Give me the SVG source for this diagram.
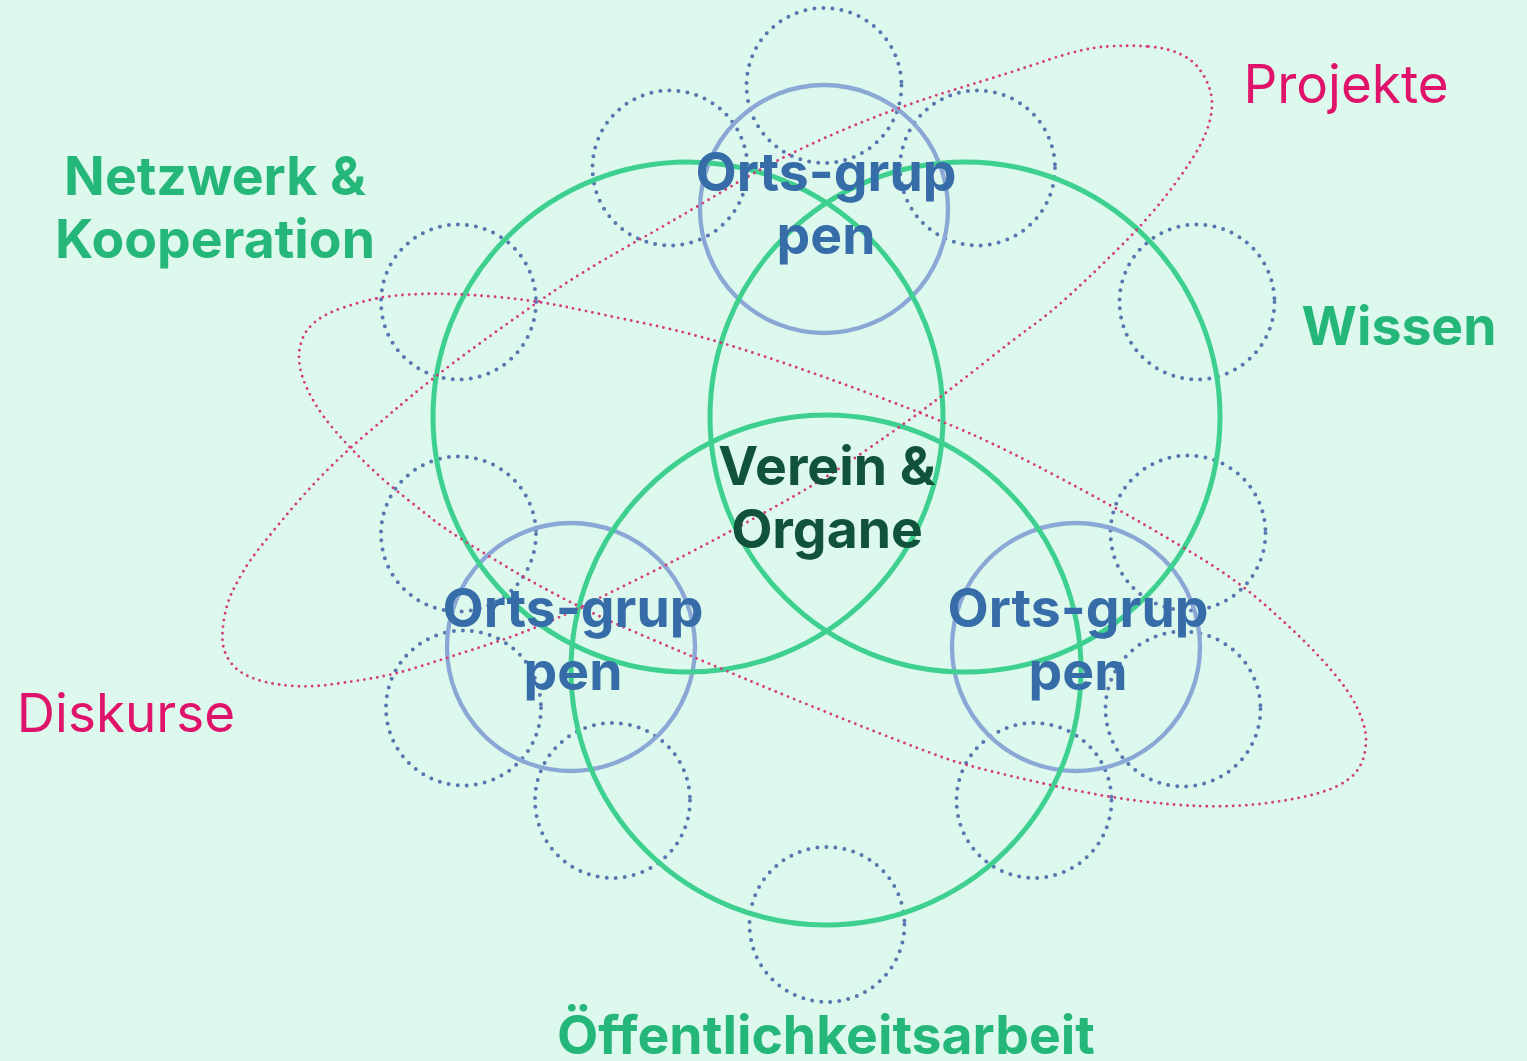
<svg xmlns="http://www.w3.org/2000/svg" width="1527" height="1061" viewBox="0 0 1527 1061">
<style>
.dot{fill:none;stroke:#5677b0;stroke-width:4;stroke-linecap:round;stroke-dasharray:0 9.1}
.og{fill:none;stroke:#8ba7d6;stroke-width:4.3}
.gr{fill:none;stroke:#3dd08f;stroke-width:5}
.pk{fill:none;stroke:#d43d7c;stroke-width:2.9;stroke-linecap:round;stroke-dasharray:0 6.6}
.b{font-family:Inter,"Liberation Sans",sans-serif;font-weight:700;font-size:53.5px;text-anchor:middle}
.r{font-family:Inter,"Liberation Sans",sans-serif;font-weight:400;font-size:53px;text-anchor:middle;fill:#e0136a}
.blue{fill:#366ca8}
.green{fill:#25b67a}
.dark{fill:#11533a}
</style>
<rect width="1527" height="1061" fill="#ddf8ec"/>
<g id="members">
<circle class="dot" cx="824" cy="85.5" r="77.5"/>
<circle class="dot" cx="670" cy="168" r="77.5"/>
<circle class="dot" cx="977.5" cy="168" r="77.5"/>
<circle class="dot" cx="458.5" cy="302" r="77.5"/>
<circle class="dot" cx="1197" cy="302" r="77.5"/>
<circle class="dot" cx="458.5" cy="534" r="77.5"/>
<circle class="dot" cx="1188" cy="533" r="77.5"/>
<circle class="dot" cx="463.5" cy="708" r="77.5"/>
<circle class="dot" cx="1183" cy="709" r="77.5"/>
<circle class="dot" cx="612.5" cy="800.5" r="77.5"/>
<circle class="dot" cx="1034" cy="800.5" r="77.5"/>
<circle class="dot" cx="827" cy="924.5" r="77.5"/>
</g>
<g id="ortsgruppen-circles">
<circle class="og" cx="824" cy="209" r="124"/>
<circle class="og" cx="571" cy="647" r="124"/>
<circle class="og" cx="1076" cy="647" r="124"/>
</g>
<g id="areas">
<circle id="netzwerk" class="gr" cx="688" cy="417" r="255"/>
<circle id="wissen" class="gr" cx="965" cy="417" r="255"/>
<circle id="oeffentlichkeit" class="gr" cx="826" cy="670" r="255"/>
</g>
<g id="connectors">
<path id="projekte-shape" class="pk" d="M 1148.5,46.5 Q 1167,48 1180,54 Q 1193,60 1200,70 Q 1207,80 1210,90 Q 1213,100 1211.5,111.5 Q 1210,123 1205,135 Q 1200,147 1191.5,160 Q 1183,173 1173,186.5 Q 1163,200 1150,215 Q 1137,230 1123.5,243.5 Q 1110,257 1096.5,270 Q 1083,283 1066.5,298 Q 1050,313 1031.5,326.5 Q 1013,340 986.5,361 Q 960,382 935,401 Q 910,420 866.5,450 Q 823,480 790,498.5 Q 757,517 723.5,535 Q 690,553 650,573 Q 610,593 571.5,611.5 Q 533,630 491.5,643.5 Q 450,657 421.5,666 Q 393,675 368,679 Q 343,683 326.5,685 Q 310,687 293.5,686 Q 277,685 263.5,681.5 Q 250,678 241.5,672.5 Q 233,667 228,658.5 Q 223,650 222.5,640 Q 222,630 224.5,616.5 Q 227,603 232,592.5 Q 237,582 243.5,571 Q 250,560 260,547.5 Q 270,535 281.5,521 Q 293,507 306.5,492 Q 320,477 335,462.5 Q 350,448 366.5,434 Q 383,420 396.5,408.5 Q 410,397 430,381 Q 450,365 482.5,341.5 Q 515,318 547.5,295.5 Q 580,273 630,245 Q 680,217 730,187 Q 780,157 838.5,132 Q 897,107 955,89.5 Q 1013,72 1048,60 Q 1083,48 1106.5,46.5 Q 1130,45 1148.5,46.5 Z"/>
<path id="diskurse-shape" class="pk" d="M 376.5,298.5 Q 393,295 421.5,294 Q 450,293 491.5,296.5 Q 533,300 566.5,307 Q 600,314 650,324.5 Q 700,335 760,355 Q 820,375 880,397.5 Q 940,420 973.5,435 Q 1007,450 1057,476.5 Q 1107,503 1145,525 Q 1183,547 1211.5,565 Q 1240,583 1265,605 Q 1290,627 1306.5,643.5 Q 1323,660 1336.5,676.5 Q 1350,693 1356.5,706.5 Q 1363,720 1365,730 Q 1367,740 1365,751.5 Q 1363,763 1356.5,771.5 Q 1350,780 1336.5,786.5 Q 1323,793 1298,798 Q 1273,803 1248,805 Q 1223,807 1198,806 Q 1173,805 1140,801 Q 1107,797 1073.5,790 Q 1040,783 1006.5,775 Q 973,767 956.5,762 Q 940,757 880,733.5 Q 820,710 760,685 Q 700,660 633.5,631.5 Q 567,603 508.5,568 Q 450,533 433.5,520 Q 417,507 400,493.5 Q 383,480 366.5,464 Q 350,448 336.5,432.5 Q 323,417 315,403.5 Q 307,390 303,378.5 Q 299,367 299,357 Q 299,347 303,337.5 Q 307,328 317,320.5 Q 327,313 343.5,307.5 Q 360,302 376.5,298.5 Z"/>
</g>
<g id="label-projekte"><text class="r" x="1346" y="103">Projekte</text></g>
<g id="label-diskurse"><text class="r" x="126" y="732">Diskurse</text></g>
<g id="label-netzwerk"><text class="b green" x="215" y="195">Netzwerk &amp;</text><text class="b green" x="215" y="258">Kooperation</text></g>
<g id="label-wissen"><text class="b green" x="1399" y="345">Wissen</text></g>
<g id="label-oeffentlichkeit"><text class="b green" x="826" y="1054">Öffentlichkeitsarbeit</text></g>
<g id="node-verein"><text class="b dark" x="827" y="485">Verein &amp;</text><text class="b dark" x="827" y="548">Organe</text></g>
<g id="node-og-top"><text class="b blue" x="826" y="191">Orts-grup</text><text class="b blue" x="826" y="254">pen</text></g>
<g id="node-og-left"><text class="b blue" x="573" y="627">Orts-grup</text><text class="b blue" x="573" y="690">pen</text></g>
<g id="node-og-right"><text class="b blue" x="1078" y="627">Orts-grup</text><text class="b blue" x="1078" y="690">pen</text></g>
</svg>
